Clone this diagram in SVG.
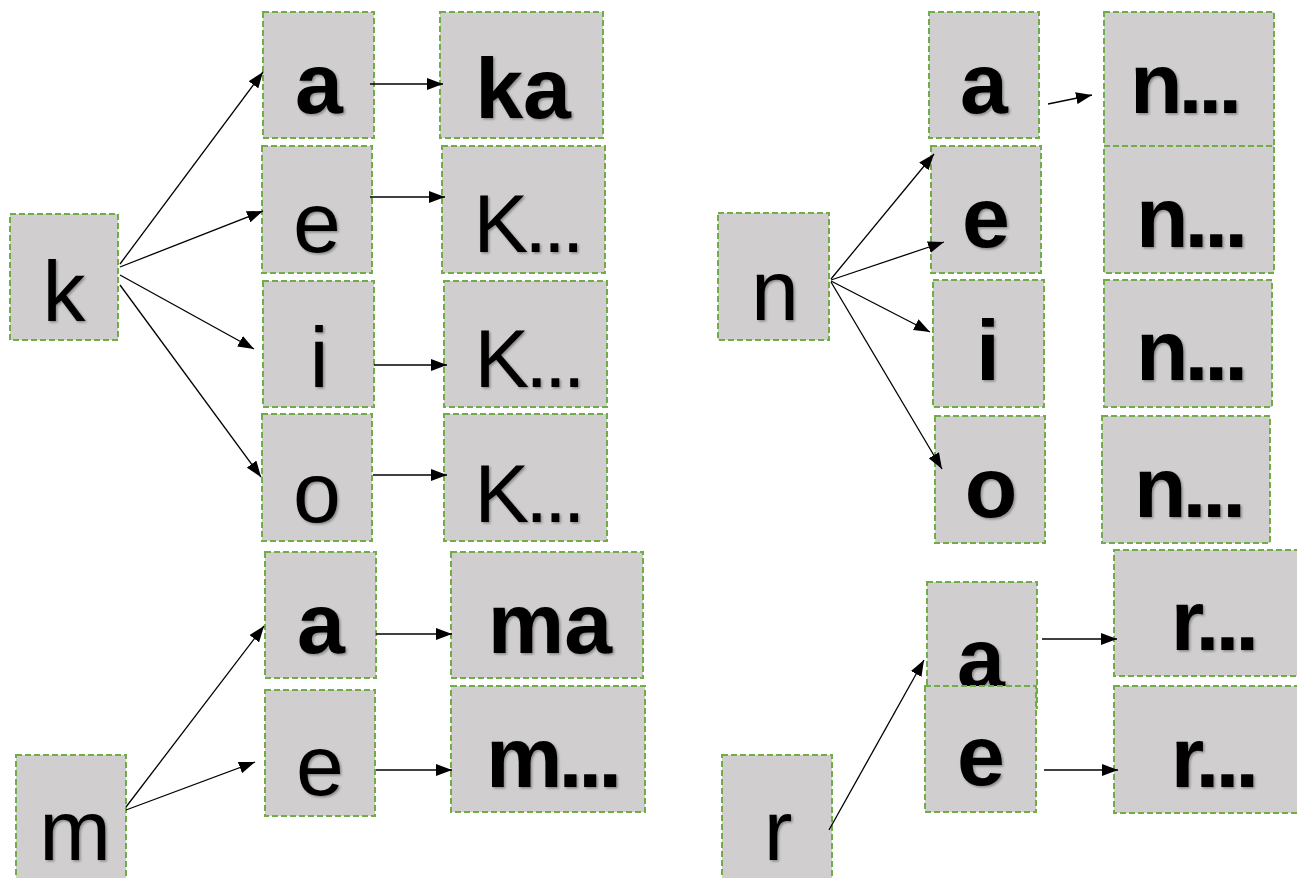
<svg xmlns="http://www.w3.org/2000/svg" width="1297" height="878" viewBox="0 0 1297 878">
<style>
.box{fill:#D0CECE;stroke:#70AD47;stroke-width:2;stroke-dasharray:6 3}
.t{font-family:"Liberation Sans",Arial,sans-serif;font-size:86px;fill:#000;text-anchor:middle;filter:url(#sh)}
.b{font-weight:bold}
.dk{font-size:82px;letter-spacing:-4px}
.db{letter-spacing:-4px}
.c{stroke:#000;stroke-width:1.3;fill:none;marker-end:url(#ah)}
</style>
<defs>
<filter id="sh" x="-20%" y="-20%" width="140%" height="140%">
<feDropShadow dx="1.5" dy="1.5" stdDeviation="1" flood-color="#000" flood-opacity="0.35"/>
</filter>
<marker id="ah" markerUnits="userSpaceOnUse" markerWidth="16" markerHeight="12" refX="16" refY="6" orient="auto">
<path d="M0,0 L16,6 L0,12 z" fill="#000"/>
</marker>
</defs>
<rect width="1297" height="878" fill="#fff"/>
<g id="nodes">
<g id="k"><rect class="box" x="10" y="214" width="108" height="126"/><text class="t" x="64" y="321">k</text></g>
<g id="ka_a"><rect class="box" x="263" y="12" width="111" height="126"/><text class="t b" x="319" y="113">a</text></g>
<g id="ka_e"><rect class="box" x="262" y="146" width="110" height="127"/><text class="t" x="317" y="252">e</text></g>
<g id="ka_i"><rect class="box" x="263" y="281" width="111" height="126"/><text class="t" x="319" y="387">i</text></g>
<g id="ka_o"><rect class="box" x="262" y="414" width="110" height="127"/><text class="t" x="317" y="522">o</text></g>
<g id="res_ka"><rect class="box" x="440" y="12" width="163" height="126"/><text class="t b" x="523" y="118">ka</text></g>
<g id="res_ke"><rect class="box" x="442" y="146" width="163" height="127"/><text class="t dk" x="527" y="252">K...</text></g>
<g id="res_ki"><rect class="box" x="444" y="281" width="163" height="126"/><text class="t dk" x="528" y="387">K...</text></g>
<g id="res_ko"><rect class="box" x="444" y="414" width="163" height="127"/><text class="t dk" x="528" y="522">K...</text></g>
<g id="m"><rect class="box" x="16" y="755" width="110" height="130"/><text class="t" x="75" y="860">m</text></g>
<g id="ma_a"><rect class="box" x="265" y="552" width="111" height="126"/><text class="t b" x="321" y="653">a</text></g>
<g id="ma_e"><rect class="box" x="265" y="690" width="110" height="126"/><text class="t" x="320" y="795">e</text></g>
<g id="res_ma"><rect class="box" x="451" y="552" width="192" height="126"/><text class="t b" x="550" y="653">ma</text></g>
<g id="res_me"><rect class="box" x="451" y="686" width="194" height="126"/><text class="t b db" x="552" y="787">m...</text></g>
<g id="n"><rect class="box" x="718" y="213" width="111" height="127"/><text class="t" x="775" y="320">n</text></g>
<g id="na_a"><rect class="box" x="929" y="12" width="110" height="126"/><text class="t b" x="984" y="113">a</text></g>
<g id="na_e"><rect class="box" x="931" y="146" width="110" height="127"/><text class="t b" x="986" y="247">e</text></g>
<g id="na_i"><rect class="box" x="933" y="280" width="111" height="127"/><text class="t b" x="988" y="380">i</text></g>
<g id="na_o"><rect class="box" x="935" y="416" width="110" height="127"/><text class="t b" x="991" y="517">o</text></g>
<g id="res_na"><rect class="box" x="1104" y="12" width="170" height="134"/><text class="t b db" x="1184" y="113">n...</text></g>
<g id="res_ne"><rect class="box" x="1104" y="146" width="170" height="127"/><text class="t b db" x="1190" y="247">n...</text></g>
<g id="res_ni"><rect class="box" x="1104" y="280" width="168" height="127"/><text class="t b db" x="1190" y="380">n...</text></g>
<g id="res_no"><rect class="box" x="1102" y="416" width="168" height="127"/><text class="t b db" x="1188" y="517">n...</text></g>
<g id="r"><rect class="box" x="722" y="755" width="110" height="130"/><text class="t" x="778" y="860">r</text></g>
<g id="ra_a"><rect class="box" x="927" y="582" width="110" height="126"/><text class="t b" x="981" y="688">a</text></g>
<g id="ra_e"><rect class="box" x="925" y="686" width="111" height="126"/><text class="t b" x="981" y="785">e</text></g>
<g id="res_ra"><rect class="box" x="1114" y="550" width="190" height="126"/><text class="t b db" x="1213" y="650">r...</text></g>
<g id="res_re"><rect class="box" x="1114" y="686" width="190" height="127"/><text class="t b db" x="1213" y="787">r...</text></g>
</g>
<g id="connectors">
<path class="c" d="M120,264 L263,72"/>
<path class="c" d="M120,267 L263,211"/>
<path class="c" d="M120,275 L254,349"/>
<path class="c" d="M120,285 L261,477"/>
<path class="c" d="M370,84 L443,84"/>
<path class="c" d="M370,197 L445,197"/>
<path class="c" d="M374,365 L447,365"/>
<path class="c" d="M373,475 L447,475"/>
<path class="c" d="M126,807 L264,626"/>
<path class="c" d="M126,810 L255,762"/>
<path class="c" d="M376,634 L452,634"/>
<path class="c" d="M376,770 L452,770"/>
<path class="c" d="M831,279 L934,154"/>
<path class="c" d="M831,280 L944,242"/>
<path class="c" d="M831,281 L930,332"/>
<path class="c" d="M831,282 L942,469"/>
<path class="c" d="M1048,104 L1092,95"/>
<path class="c" d="M829,830 L924,660"/>
<path class="c" d="M1042,639 L1117,639"/>
<path class="c" d="M1044,770 L1118,770"/>
</g>
</svg>
